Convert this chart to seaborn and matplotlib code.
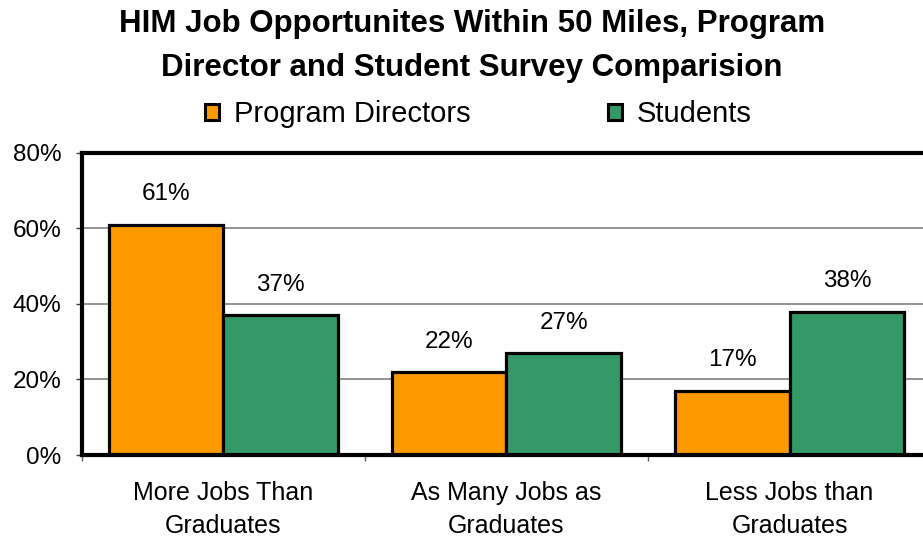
import matplotlib
matplotlib.use("Agg")
import matplotlib.pyplot as plt
from matplotlib.patches import Patch
from matplotlib.ticker import FixedLocator
import seaborn as sns
import pandas as pd

categories = ["More Jobs Than\nGraduates", "As Many Jobs as\nGraduates", "Less Jobs than\nGraduates"]
series_names = ["Program Directors", "Students"]
program_directors = [61, 22, 17]
students = [37, 27, 38]
y_ticks = [0, 20, 40, 60, 80]
colors = ["#FF9900", "#339966"]

df = pd.DataFrame({
    "category": categories * 2,
    "group": [series_names[0]] * 3 + [series_names[1]] * 3,
    "value": program_directors + students,
})

sns.set_theme(style="white", rc={"text.color": "black", "axes.labelcolor": "black",
                                 "xtick.color": "black", "ytick.color": "black"})
plt.rcParams["font.family"] = ["Liberation Sans", "DejaVu Sans"]

fig = plt.figure(figsize=(9.23, 5.37), dpi=100)
ax = fig.add_axes([0.0888, 0.1527, 0.9199, 0.5624])

sns.barplot(data=df, x="category", y="value", hue="group", palette=colors,
            order=categories, hue_order=series_names, width=0.81,
            edgecolor="black", linewidth=2.3, saturation=1, ax=ax, legend=False,
            zorder=3)

for cont in ax.containers:
    ax.bar_label(cont, labels=[f"{v:.0f}%" for v in cont.datavalues],
                 padding=14, fontsize=17.5, color="black")

ax.set_ylim(0, 80)
ax.set_xlim(-0.5, 2.5)
ax.set_yticks(y_ticks)
ax.set_yticklabels([f"{t}%" for t in y_ticks], fontsize=17.5)
ax.tick_params(axis="y", which="both", left=True, length=4, width=1, color="#404040", pad=11)
ax.tick_params(axis="x", which="major", labelsize=18, length=0, pad=19)
ax.xaxis.set_minor_locator(FixedLocator([-0.5, 0.5, 1.5]))
ax.tick_params(axis="x", which="minor", bottom=True, length=4, width=1, color="#606060")
ax.yaxis.grid(True, color="#808080", linewidth=1.2, zorder=0)
ax.set_axisbelow(True)
ax.set_xlabel("")
ax.set_ylabel("")
for s in ax.spines.values():
    s.set_visible(True)
    s.set_color("black")
    s.set_linewidth(3)
    s.set_zorder(5)
for lab in ax.get_xticklabels():
    lab.set_linespacing(1.45)

fig.text(0.511, 1 - 9 / 537, "HIM Job Opportunites Within 50 Miles, Program\nDirector and Student Survey Comparision",
         ha="center", va="top", fontsize=22.5, fontweight="bold", linespacing=1.6, color="black")

handles = [Patch(facecolor=c, edgecolor="black", linewidth=2.2) for c in colors]
fig.legend(handles, series_names, loc="center", bbox_to_anchor=(0.518, 0.787), ncol=2,
           frameon=False, fontsize=21, handlelength=0.5, handleheight=0.5,
           handletextpad=0.5, columnspacing=4.7, borderpad=0, borderaxespad=0)

fig.savefig("out.png", dpi=100)
